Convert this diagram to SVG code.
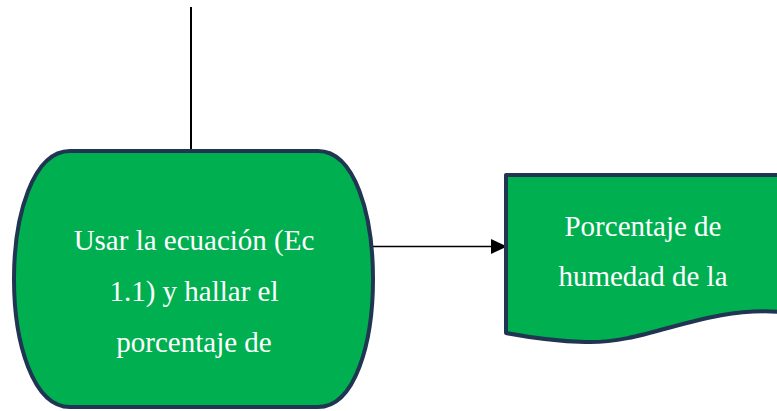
<svg xmlns="http://www.w3.org/2000/svg" width="777" height="411" viewBox="0 0 777 411">
  <defs>
    <style>
      .node { fill: #00B050; stroke: #1F3552; stroke-width: 4; stroke-linejoin: round; }
      .label { font-family: 'Liberation Serif', 'Times New Roman', serif; font-size: 29px; fill: #FFFFFF; text-anchor: middle; }
      .wire { stroke: #000000; stroke-width: 2; fill: none; }
    </style>
    <marker id="arrow" viewBox="0 0 16 15" refX="16" refY="7.5" markerWidth="16" markerHeight="15" markerUnits="userSpaceOnUse" orient="auto">
      <path d="M0,0 L16,7.5 L0,15 Z" fill="#000000"/>
    </marker>
  </defs>

  <g id="connectors">
    <line class="wire" x1="191" y1="7" x2="191" y2="151"/>
    <line class="wire" x1="373" y1="246.5" x2="507" y2="246.5" marker-end="url(#arrow)" style="stroke-width:1.6"/>
  </g>

  <g id="process">
    <path class="node" d="M70,151 H318 C355,151 373,215 373,279 C373,343 355,407 318,407 H70 C33,407 14,343 14,279 C14,215 33,151 70,151 Z"/>
    <text class="label" font-family="Liberation Serif, serif" x="194" y="250">Usar la ecuación (Ec</text>
    <text class="label" font-family="Liberation Serif, serif" x="194" y="301">1.1) y hallar el</text>
    <text class="label" font-family="Liberation Serif, serif" x="194" y="352">porcentaje de</text>
  </g>

  <g id="result">
    <path class="node" d="M506,175 H782 V312 C700,306 650,344 585,342 C550,341 527,337 506,333 Z"/>
    <text class="label" font-family="Liberation Serif, serif" x="643" y="236">Porcentaje de</text>
    <text class="label" font-family="Liberation Serif, serif" x="643" y="286">humedad de la</text>
  </g>
</svg>
